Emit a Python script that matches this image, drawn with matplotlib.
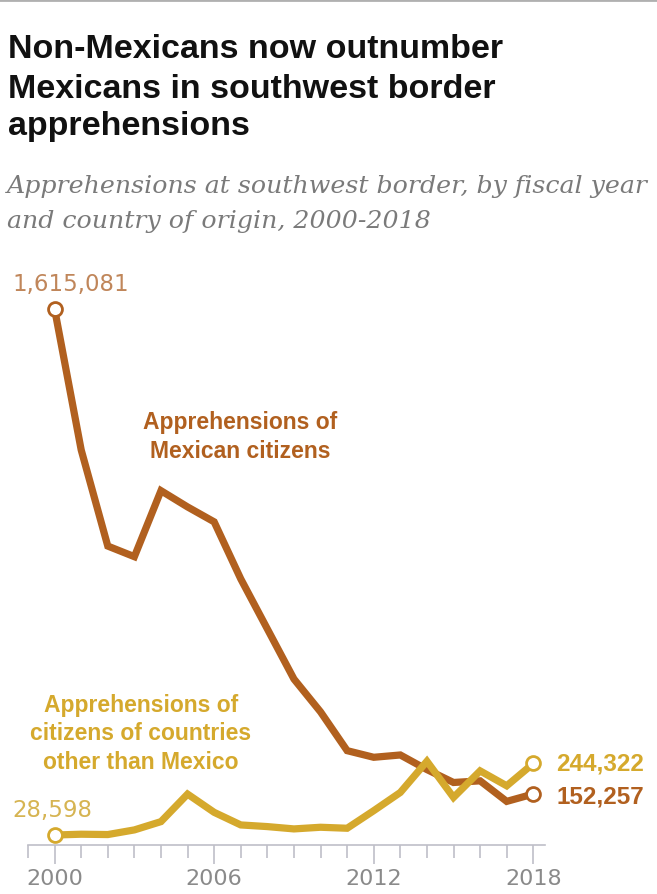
import matplotlib
matplotlib.use("Agg")
import matplotlib.pyplot as plt
from matplotlib.ticker import MultipleLocator

# Southwest border apprehensions by fiscal year
years = list(range(2000, 2019))
mexican = [1615081, 1190000, 900000, 868000, 1067000, 1018000, 973000,
           801000, 650000, 499000, 400000, 283000, 263000, 270000,
           226000, 187000, 192000, 130000, 152257]
non_mexican = [28598, 31000, 30000, 44000, 69000, 152000, 97000,
               59000, 54000, 47000, 52000, 49000, 102000, 157000,
               251000, 142000, 222000, 177000, 244322]
year_ticks = [2000, 2006, 2012, 2018]

c_mex = "#b1601f"
c_oth = "#d5a92d"
c_mex_light = "#c0865a"
c_oth_light = "#d6b452"
grey = "#8a8a8a"

W, H = 657, 895
fig = plt.figure(figsize=(W / 100, H / 100), dpi=100)


def fx(x):
    return x / W


def fy(y):
    return 1 - y / H


# thin rule along the top
fig.add_artist(plt.Line2D([0, 1], [fy(1), fy(1)], color="#b0b0b0", lw=2))

title_font = "Liberation Sans"
fig.text(fx(8), fy(58), "Non-Mexicans now outnumber", fontsize=24.5,
         fontweight="bold", family=title_font, color="#111111")
fig.text(fx(8), fy(98), "Mexicans in southwest border", fontsize=24.5,
         fontweight="bold", family=title_font, color="#111111")
fig.text(fx(8), fy(135), "apprehensions", fontsize=24.5,
         fontweight="bold", family=title_font, color="#111111")

fig.text(fx(7), fy(193), "Apprehensions at southwest border, by fiscal year",
         fontsize=18.2, style="italic", family="DejaVu Serif", color="#7a7a7a")
fig.text(fx(7), fy(228), "and country of origin, 2000-2018",
         fontsize=18.2, style="italic", family="DejaVu Serif", color="#7a7a7a")

# plot area: baseline at y=845 px
bottom = 845.5
top = 281.8
ax = fig.add_axes([fx(28), fy(bottom), fx(545) - fx(28), (bottom - top) / H])
ax.set_xlim(1999, 2018.44)
ax.set_ylim(0, 1700000)

ax.plot(years, mexican, color=c_mex, lw=5.2, solid_joinstyle="miter",
        clip_on=False, zorder=3)
ax.plot(years, non_mexican, color=c_oth, lw=5.2, solid_joinstyle="miter",
        clip_on=False, zorder=4)

for ys, c in [(mexican, c_mex), (non_mexican, c_oth)]:
    ax.plot([years[0], years[-1]], [ys[0], ys[-1]], "o", ms=10, mfc="white",
            mec=c, mew=2, clip_on=False, zorder=5)

for s in ["top", "right", "left"]:
    ax.spines[s].set_visible(False)
ax.spines["bottom"].set_color("#bfbfc8")
ax.spines["bottom"].set_linewidth(1.2)
ax.set_yticks([])
ax.set_xticks(year_ticks)
ax.xaxis.set_minor_locator(MultipleLocator(1))
ax.tick_params(axis="x", which="major", length=14, width=1.2, color="#bfbfc8",
               pad=3, labelsize=16, labelcolor=grey)
ax.tick_params(axis="x", which="minor", length=9, width=1.2, color="#bfbfc8")
for lab in ax.get_xticklabels():
    lab.set_family("DejaVu Sans")

# value labels
fig.text(fx(12), fy(284), f"{mexican[0]:,}", fontsize=16.5, color=c_mex_light,
         family="DejaVu Sans", va="center")
fig.text(fx(12), fy(811), f"{non_mexican[0]:,}", fontsize=16.5,
         color=c_oth_light, family="DejaVu Sans", va="center")
fig.text(fx(556), fy(764), f"{non_mexican[-1]:,}", fontsize=17.5,
         fontweight="bold", color=c_oth, family="Liberation Sans", va="center")
fig.text(fx(556), fy(797), f"{mexican[-1]:,}", fontsize=17.5,
         fontweight="bold", color=c_mex, family="Liberation Sans", va="center")

# series labels
fig.text(fx(240), fy(437), "Apprehensions of\nMexican citizens", fontsize=16.5,
         fontweight="bold", color=c_mex, family="Liberation Sans",
         ha="center", va="center", linespacing=1.28)
fig.text(fx(141), fy(734),
         "Apprehensions of\ncitizens of countries\nother than Mexico",
         fontsize=16.5, fontweight="bold", color=c_oth, family="Liberation Sans",
         ha="center", va="center", linespacing=1.28)

fig.savefig("out.png", dpi=100)
